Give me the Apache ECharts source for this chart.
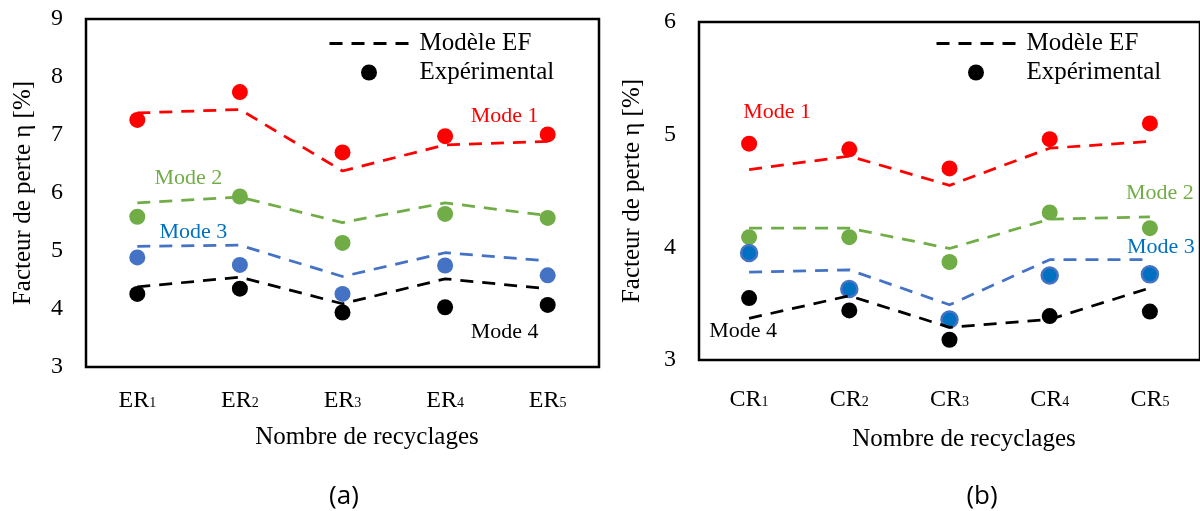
<!DOCTYPE html>
<html>
<head>
<meta charset="utf-8">
<script src="https://cdn.jsdelivr.net/npm/echarts@6/dist/echarts.min.js"></script>
<style>
  html, body { margin: 0; padding: 0; background: #fff; }
  #chart { width: 1200px; height: 511px; }
</style>
</head>
<body>
<div id="chart"></div>
<script>
// categories
var categoriesA = ['ER1', 'ER2', 'ER3', 'ER4', 'ER5'];
var categoriesB = ['CR1', 'CR2', 'CR3', 'CR4', 'CR5'];

// (a) experimental / modele EF, modes 1..4
var expA1 = [7.26, 7.74, 6.70, 6.98, 7.01];
var modelA1 = [7.38, 7.44, 6.38, 6.83, 6.89];
var expA2 = [5.59, 5.94, 5.14, 5.64, 5.57];
var modelA2 = [5.83, 5.93, 5.49, 5.83, 5.61];
var expA3 = [4.89, 4.76, 4.26, 4.75, 4.58];
var modelA3 = [5.08, 5.10, 4.56, 4.97, 4.83];
var expA4 = [4.26, 4.35, 3.94, 4.03, 4.07];
var modelA4 = [4.38, 4.55, 4.09, 4.52, 4.35];

// (b)
var expB1 = [4.92, 4.87, 4.70, 4.96, 5.10];
var modelB1 = [4.69, 4.81, 4.55, 4.88, 4.94];
var expB2 = [4.09, 4.09, 3.87, 4.31, 4.17];
var modelB2 = [4.17, 4.17, 3.99, 4.25, 4.27];
var expB3 = [3.95, 3.63, 3.36, 3.75, 3.76];
var modelB3 = [3.78, 3.80, 3.49, 3.89, 3.89];
var expB4 = [3.55, 3.44, 3.18, 3.39, 3.43];
var modelB4 = [3.37, 3.57, 3.29, 3.36, 3.64];

var serif = 'Liberation Serif';
var lineColors = ['#FF0000', '#70AD47', '#4472C4', '#000000'];
var labelColors = ['#FF0000', '#70AD47', '#0070C0', '#000000'];
var dash = [13, 9];

// where the "Mode n" texts sit: attached to one experimental point, shifted
var notesA = [
  { index: 4, offset: [-43, -18] },
  { index: 0, offset: [51, -39] },
  { index: 0, offset: [56, -25] },
  { index: 4, offset: [-43, 27] }
];
var notesB = [
  { index: 0, offset: [28, -31] },
  { index: 4, offset: [10, -35] },
  { index: 4, offset: [11, -27] },
  { index: 0, offset: [-6, 33] }
];

function makeSeries(axisIdx, expList, modelList, notes, dotStyles) {
  var out = [];
  for (var m = 0; m < 4; m++) {
    var note = notes[m];
    var mode = m;
    var expData = expList[m].map(function (v, i) {
      if (i !== note.index) return v;
      return {
        value: v,
        label: {
          show: true, formatter: 'Mode ' + (mode + 1), position: 'inside',
          offset: note.offset, color: labelColors[mode],
          fontFamily: serif, fontSize: 22
        }
      };
    });
    out.push({
      name: 'exp' + axisIdx + '_' + m,
      type: 'scatter',
      xAxisIndex: axisIdx, yAxisIndex: axisIdx,
      symbolSize: 16,
      z: 2,
      itemStyle: Object.assign({ opacity: 1 }, dotStyles[m]),
      data: expData
    });
  }
  for (var k = 0; k < 4; k++) {
    out.push({
      name: 'ef' + axisIdx + '_' + k,
      type: 'line',
      xAxisIndex: axisIdx, yAxisIndex: axisIdx,
      symbol: 'none',
      z: 3,
      lineStyle: { color: lineColors[k], width: 2.75, type: dash },
      data: modelList[k]
    });
  }
  return out;
}

var dotsA = [
  { color: '#FF0000' }, { color: '#70AD47' }, { color: '#4472C4' }, { color: '#000000' }
];
var dotsB = [
  { color: '#FF0000' }, { color: '#70AD47' },
  { color: '#0070C0', borderColor: '#4472C4', borderWidth: 2.5 },
  { color: '#000000' }
];

var series = []
  .concat(makeSeries(0, [expA1, expA2, expA3, expA4], [modelA1, modelA2, modelA3, modelA4], notesA, dotsA))
  .concat(makeSeries(1, [expB1, expB2, expB3, expB4], [modelB1, modelB2, modelB3, modelB4], notesB, dotsB));

// legend-only series
series.push({
  name: 'Modèle EF', type: 'line', xAxisIndex: 0, yAxisIndex: 0, data: [],
  symbol: 'none', itemStyle: { color: '#000' },
  lineStyle: { color: '#000', width: 3, type: dash }
});
series.push({
  name: 'Expérimental', type: 'scatter', xAxisIndex: 0, yAxisIndex: 0, data: [],
  itemStyle: { color: '#000', opacity: 1 }
});

function catLabel(v) {
  return '{n|' + v.slice(0, 2) + '}{s|' + v.slice(2) + '}';
}

function xAxisCfg(idx, cats, margin, gap, shift) {
  return {
    type: 'category', gridIndex: idx, data: cats, boundaryGap: true,
    axisLine: { show: false }, axisTick: { show: false },
    axisLabel: {
      margin: margin, formatter: catLabel,
      rich: {
        n: { fontFamily: serif, fontSize: 24, color: '#000' },
        s: { fontFamily: serif, fontSize: 14, color: '#000', verticalAlign: 'bottom', padding: [0, 0, 3, 0] }
      }
    },
    name: 'Nombre de recyclages', nameLocation: 'middle', nameGap: gap,
    nameTextStyle: { fontFamily: serif, fontSize: 25, color: '#000', padding: [0, 0, 0, shift] }
  };
}

function yAxisCfg(idx, max, gap) {
  return {
    type: 'value', gridIndex: idx, min: 3, max: max, interval: 1,
    splitLine: { show: false }, axisLine: { show: false }, axisTick: { show: false },
    axisLabel: { fontFamily: serif, fontSize: 24, color: '#000', margin: 23 },
    name: 'Facteur de perte η [%]', nameLocation: 'middle', nameGap: gap,
    nameTextStyle: { fontFamily: serif, fontSize: 25, color: '#000' }
  };
}

function legendCfg(left) {
  return {
    left: left, top: 31, orient: 'vertical', padding: 0,
    itemWidth: 79, itemHeight: 16, itemGap: 4,
    selectedMode: false,
    data: [
      { name: 'Modèle EF', itemStyle: { opacity: 0 }, lineStyle: { color: '#000', width: 3, type: dash } },
      'Expérimental'
    ],
    textStyle: { fontFamily: serif, fontSize: 25, color: '#000', padding: [0, 0, 0, 6] }
  };
}

var chart = echarts.init(document.getElementById('chart'), null, { renderer: 'canvas' });
chart.setOption({
  animation: false,
  backgroundColor: '#fff',
  grid: [
    { left: 86, top: 19, width: 513, height: 348, show: true, borderColor: '#000', borderWidth: 2.5 },
    { left: 699, top: 22, width: 505, height: 338, show: true, borderColor: '#000', borderWidth: 2.5 }
  ],
  xAxis: [xAxisCfg(0, categoriesA, 22, 58, 49), xAxisCfg(1, categoriesB, 28, 67, 29)],
  yAxis: [yAxisCfg(0, 9, 50), yAxisCfg(1, 6, 54)],
  legend: [legendCfg(328), legendCfg(935)],
  graphic: [
    { type: 'text', x: 344, y: 497, style: { text: '(a)', textAlign: 'center', textVerticalAlign: 'middle', font: '26px "Open Sans"', fill: '#000' } },
    { type: 'text', x: 982, y: 497, style: { text: '(b)', textAlign: 'center', textVerticalAlign: 'middle', font: '26px "Open Sans"', fill: '#000' } }
  ],
  series: series
});
</script>
</body>
</html>
